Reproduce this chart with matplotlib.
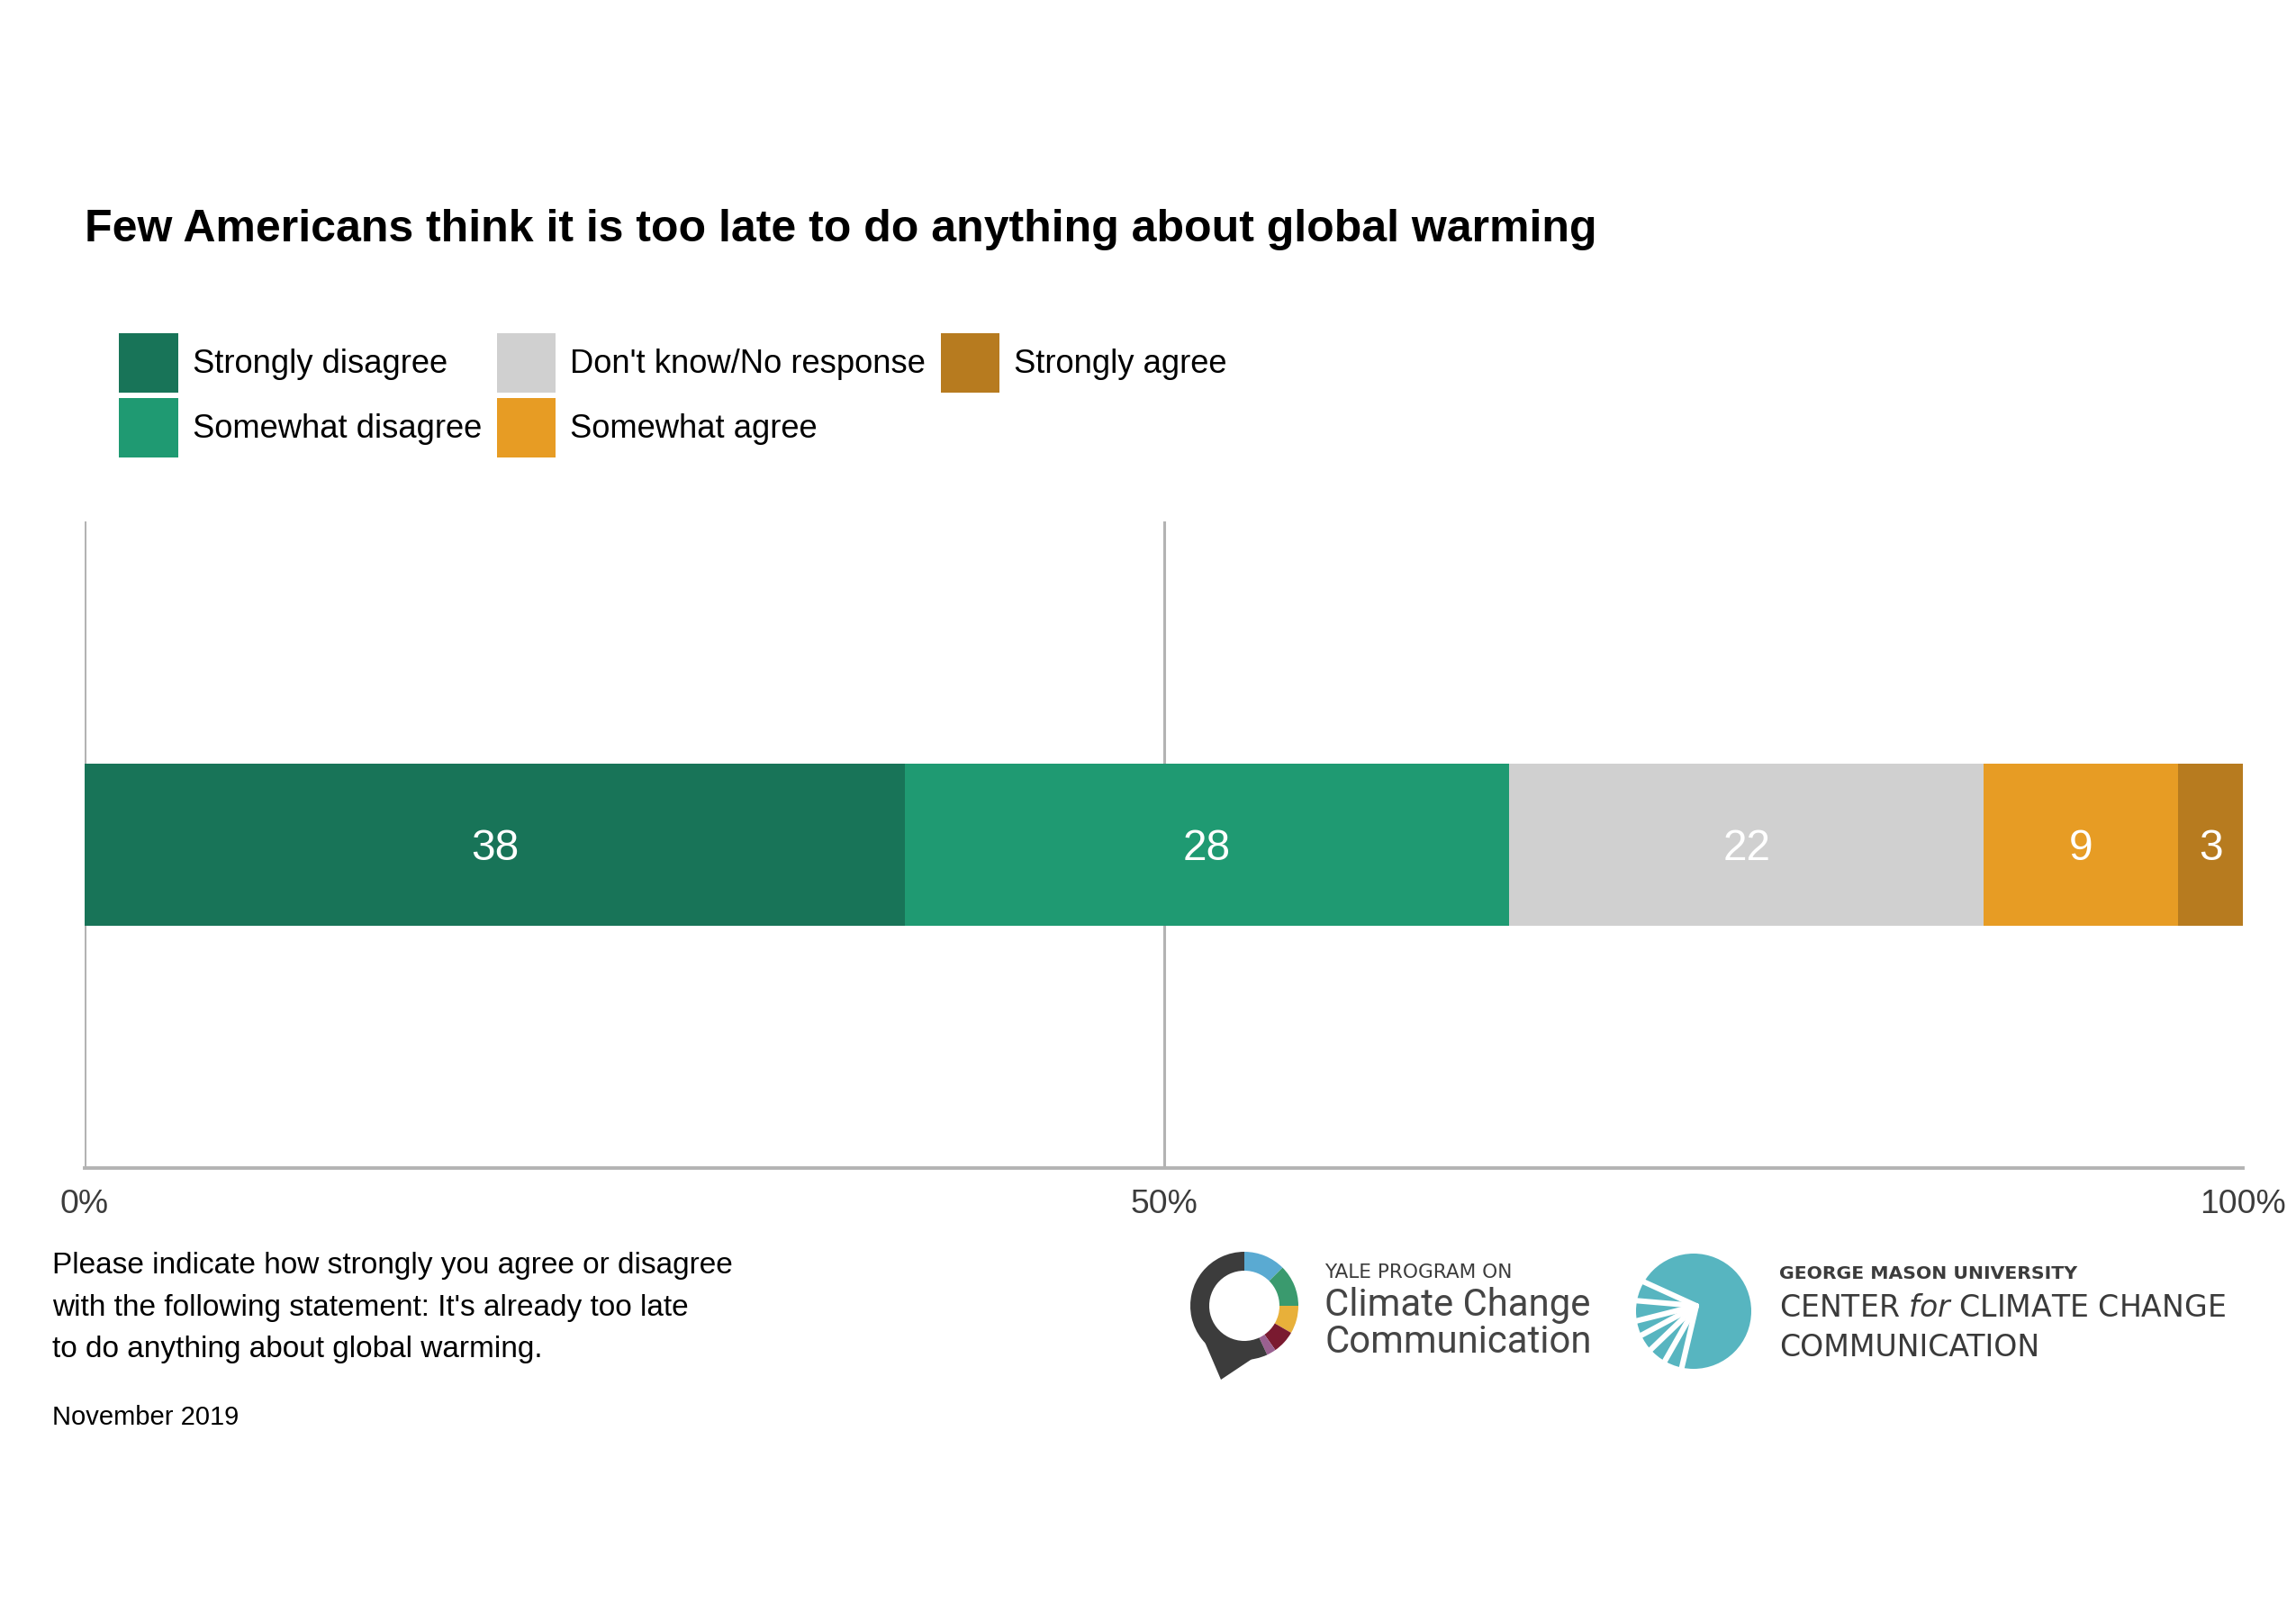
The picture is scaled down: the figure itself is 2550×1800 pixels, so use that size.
import numpy as np
import matplotlib.pyplot as plt
from matplotlib.patches import Wedge, Circle, Polygon

plt.rcParams['font.family'] = ['Liberation Sans', 'DejaVu Sans']

# data
categories = ["Strongly disagree", "Somewhat disagree", "Don't know/No response",
              "Somewhat agree", "Strongly agree"]
values = [38, 28, 22, 9, 3]
colors = ["#187458", "#1f9a72", "#d0d0d0", "#e79c24", "#b77b1f"]
tick_pos = [0, 50, 100]
tick_labels = ["0%", "50%", "100%"]
grid_pos = [0, 50]

title = "Few Americans think it is too late to do anything about global warming"
question = ("Please indicate how strongly you agree or disagree\n"
            "with the following statement: It's already too late\n"
            "to do anything about global warming.")
date_note = "November 2019"

W, H = 2550, 1800
fig = plt.figure(figsize=(12.75, 9), dpi=200)

# main axes (pixel layout from the reference)
ax = fig.add_axes([94 / W, 1 - 1297 / H, (2491 - 94) / W, (1297 - 579) / H])
ax.set_xlim(0, 100)
ax.set_ylim(-1, 1)

left = 0
handles = []
for cat, val, col in zip(categories, values, colors):
    b = ax.barh(0, val, left=left, height=0.5, color=col, label=cat, zorder=3)
    handles.append(b)
    # digits centred on the bar: baseline half a digit height below centre
    ax.annotate(str(val), (left + val / 2, 0), xytext=(0, -6.2),
                textcoords='offset points', ha='center', va='baseline',
                color='white', fontsize=17.2, zorder=4)
    left += val

for g in grid_pos:
    ax.axvline(g, color='#b3b3b3', lw=1.1, zorder=1)

for s in ['top', 'right', 'left']:
    ax.spines[s].set_visible(False)
ax.spines['bottom'].set_color('#b3b3b3')
ax.spines['bottom'].set_linewidth(1.4)
ax.set_yticks([])
ax.set_xticks(tick_pos)
ax.set_xticklabels(tick_labels)
ax.tick_params(axis='x', length=0, pad=8.3, labelsize=13.4, labelcolor='#3c3c3c')

# title
fig.text(94 / W, 1 - 268 / H, title, fontsize=18, fontweight='bold',
         ha='left', va='baseline')

# legend
fig.legend(handles=handles, labels=categories, ncol=3, frameon=False,
           loc='upper left', bbox_to_anchor=(132 / W, 1 - 370 / H),
           borderpad=0, borderaxespad=0, fontsize=13.1,
           handlelength=1.81, handleheight=2.41, handletextpad=0.44,
           labelspacing=0.165, columnspacing=0.45)

# footnotes
fig.text(58 / W, 1 - 1452 / H, question, fontsize=12, ha='left', va='center',
         linespacing=1.66)
fig.text(58 / W, 1 - 1574 / H, date_note, fontsize=10.5, ha='left', va='center')

# logos, drawn on an overlay in pixel units
lx = fig.add_axes([0, 0, 1, 1], zorder=-1)
lx.set_xlim(0, W)
lx.set_ylim(0, H)
lx.axis('off')


def py(y):
    return H - y


cx, cy = 1382, py(1450)
ring = [(45, 90, '#5aaad2'), (0, 45, '#3a9a6e'), (-30, 0, '#e8b03a'),
        (-55, -30, '#7a1a30'), (-65, -55, '#9a6090'), (90, 295, '#3c3c3c')]
for t1, t2, c in ring:
    lx.add_patch(Wedge((cx, cy), 60, t1, t2, width=21, color=c, lw=0))
lx.add_patch(Polygon([(1338, py(1490)), (1392, py(1508)), (1356, py(1532))],
                     closed=True, color='#3c3c3c', lw=0))
lx.text(1471, py(1413), "YALE PROGRAM ON", fontsize=7.8, color='#3c3c3c',
        family='DejaVu Sans', ha='left', va='center')
lx.text(1471, py(1449), "Climate Change", fontsize=15.1, color='#454545',
        family='Roboto', ha='left', va='center')
lx.text(1471, py(1490), "Communication", fontsize=15.1, color='#454545',
        family='Roboto', ha='left', va='center')

gx, gy = 1881, py(1456)
lx.add_patch(Circle((gx, gy), 64, color='#57b5c0', lw=0))
sx, sy = 1884, py(1450)
for ang in [150, 170, 190, 205, 222, 240, 258]:
    a = np.deg2rad(ang)
    lx.plot([sx, gx + 70 * np.cos(a)], [sy, gy + 70 * np.sin(a)],
            color='white', lw=2.2, solid_capstyle='round')
lx.text(1976, py(1414), "GEORGE MASON UNIVERSITY", fontsize=7.35,
        fontweight='bold', color='#3c3c3c', family='DejaVu Sans',
        ha='left', va='center')
lx.text(1976, py(1453), r"CENTER $\mathit{for}$ CLIMATE CHANGE", fontsize=11.95,
        color='#3a3a3a', family='DejaVu Sans', ha='left', va='center')
lx.text(1976, py(1497), "COMMUNICATION", fontsize=11.95, color='#3a3a3a',
        family='DejaVu Sans', ha='left', va='center')

fig.savefig('out.png', dpi=200, facecolor='white')
